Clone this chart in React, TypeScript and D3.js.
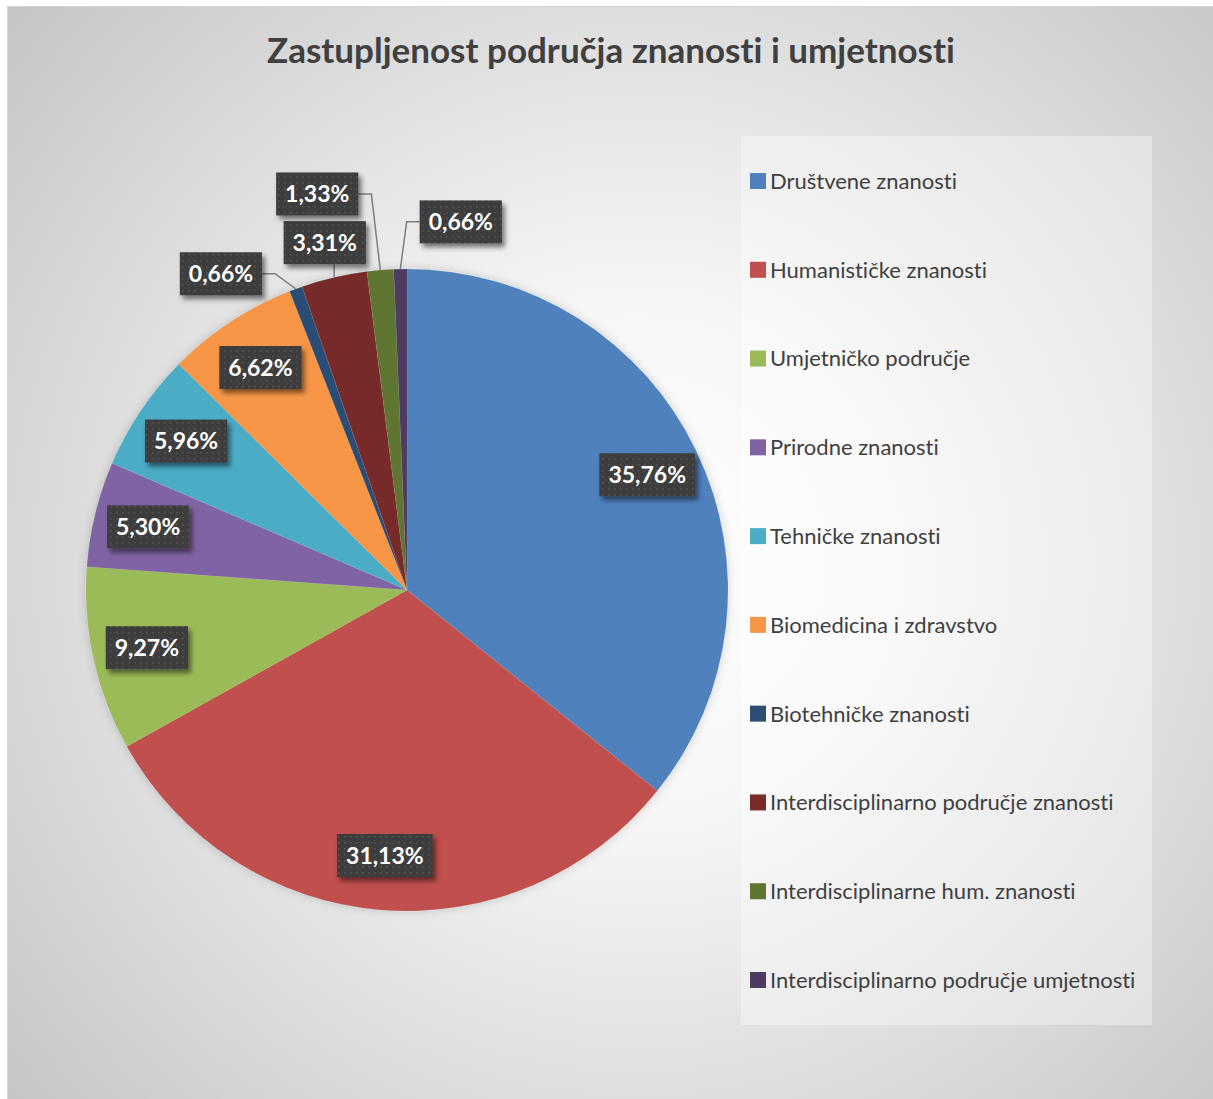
import { useEffect, useRef } from 'react';
import * as d3 from 'd3';

const CATEGORIES = [
  'Društvene znanosti',
  'Humanističke znanosti',
  'Umjetničko područje',
  'Prirodne znanosti',
  'Tehničke znanosti',
  'Biomedicina i zdravstvo',
  'Biotehničke znanosti',
  'Interdisciplinarno područje znanosti',
  'Interdisciplinarne hum. znanosti',
  'Interdisciplinarno područje umjetnosti',
];

const SHARES = [35.76, 31.13, 9.27, 5.3, 5.96, 6.62, 0.66, 3.31, 1.33, 0.66];

const COLORS = [
  '#4F81BD', '#C0504D', '#9BBB59', '#8064A2', '#4BACC6',
  '#F79646', '#2C4D75', '#772C2A', '#5F7530', '#4D3B62',
];

const TITLE = 'Zastupljenost područja znanosti i umjetnosti';

// label placement for the thin slices (angle shift in degrees, radius as share of R)
const OUTSIDE_LABELS: Record<number, { dAngle: number; rFactor: number }> = {
  6: { dAngle: -10.2, rFactor: 1.143 },
  7: { dAngle: -0.2, rFactor: 1.112 },
  8: { dAngle: -8, rFactor: 1.265 },
  9: { dAngle: 9.5, rFactor: 1.159 },
};

const W = 1213;
const H = 1099;
const FONT = 'Lato, "Open Sans", sans-serif';

export default function App() {
  const svgRef = useRef<SVGSVGElement>(null);

  useEffect(() => {
    if (!svgRef.current) return;
    const svg = d3.select(svgRef.current);
    svg.selectAll('*').remove();

    const defs = svg.append('defs');
    const grad = defs.append('radialGradient')
      .attr('id', 'bg')
      .attr('gradientUnits', 'userSpaceOnUse')
      .attr('cx', 640).attr('cy', 560).attr('r', 860);
    grad.append('stop').attr('offset', 0).attr('stop-color', '#ffffff');
    grad.append('stop').attr('offset', 0.3).attr('stop-color', '#f6f6f6');
    grad.append('stop').attr('offset', 1).attr('stop-color', '#c3c3c3');

    const pat = defs.append('pattern')
      .attr('id', 'dots')
      .attr('width', 6).attr('height', 6)
      .attr('patternUnits', 'userSpaceOnUse');
    pat.append('rect').attr('width', 6).attr('height', 6).attr('fill', '#3d3d3d');
    pat.append('rect').attr('x', 2).attr('y', 2).attr('width', 1.5).attr('height', 1.5).attr('fill', '#575757');

    const shadow = defs.append('filter').attr('id', 'shadow')
      .attr('x', '-20%').attr('y', '-20%').attr('width', '150%').attr('height', '160%');
    shadow.append('feDropShadow')
      .attr('dx', 3).attr('dy', 4).attr('stdDeviation', 2.5)
      .attr('flood-color', '#000').attr('flood-opacity', 0.5);

    const pieShadow = defs.append('filter').attr('id', 'pieShadow')
      .attr('x', '-10%').attr('y', '-10%').attr('width', '120%').attr('height', '120%');
    pieShadow.append('feDropShadow')
      .attr('dx', 0).attr('dy', 0).attr('stdDeviation', 5)
      .attr('flood-color', '#000').attr('flood-opacity', 0.18);

    // chart area
    svg.append('rect')
      .attr('x', 7.5).attr('y', 6.5)
      .attr('width', W).attr('height', H)
      .attr('fill', 'url(#bg)')
      .attr('stroke', '#d4d4d4');

    svg.append('text')
      .attr('x', 611).attr('y', 63)
      .attr('text-anchor', 'middle')
      .attr('fill', '#404040')
      .style('font-family', FONT)
      .style('font-size', '35px')
      .style('font-weight', '700')
      .style('font-variant-ligatures', 'none')
      .text(TITLE);

    // legend
    const legendBox = { x: 741, y: 136, w: 411, h: 889 };
    svg.append('rect')
      .attr('x', legendBox.x).attr('y', legendBox.y)
      .attr('width', legendBox.w).attr('height', legendBox.h)
      .attr('fill', '#ffffff').attr('opacity', 0.35);

    const legendY = d3.scalePoint<string>().domain(CATEGORIES).range([181, 980]);
    const leg = svg.append('g').selectAll('g')
      .data(CATEGORIES)
      .enter()
      .append('g')
      .attr('transform', d => `translate(750, ${legendY(d)})`);
    leg.append('rect')
      .attr('x', 0).attr('y', -8).attr('width', 16).attr('height', 16)
      .attr('fill', (_, i) => COLORS[i]);
    leg.append('text')
      .attr('x', 20).attr('y', 0).attr('dy', '0.36em')
      .attr('fill', '#404040')
      .style('font-family', FONT)
      .style('font-size', '22px')
      .style('font-variant-ligatures', 'none')
      .text(d => d);

    // pie
    const cx = 407;
    const cy = 590;
    const R = 321;
    const pie = d3.pie<number>().sort(null).value(d => d);
    const arcs = pie(SHARES);
    const arc = d3.arc<d3.PieArcDatum<number>>().innerRadius(0).outerRadius(R);
    const polar = (a: number, r: number): [number, number] => [cx + r * Math.sin(a), cy - r * Math.cos(a)];

    const g = svg.append('g').attr('transform', `translate(${cx}, ${cy})`);
    g.append('g').attr('filter', 'url(#pieShadow)')
      .selectAll('path')
      .data(arcs)
      .enter()
      .append('path')
      .attr('d', arc)
      .attr('fill', (_, i) => COLORS[i])
      .attr('stroke', '#ffffff')
      .attr('stroke-opacity', 0.12)
      .attr('stroke-width', 0.5);

    // data labels
    const fmt = d3.format('.2f');
    const labelLayer = svg.append('g');
    const leaderLayer = svg.insert('g', () => labelLayer.node());
    arcs.forEach((a, i) => {
      const mid = (a.startAngle + a.endAngle) / 2;
      const out = OUTSIDE_LABELS[i];
      const ang = out ? mid + (out.dAngle * Math.PI) / 180 : mid;
      const [lx, ly] = polar(ang, out ? out.rFactor * R : 0.83 * R);
      const text = fmt(a.data).replace('.', ',') + '%';

      const lg = labelLayer.append('g');
      const box = lg.append('rect').attr('fill', 'url(#dots)').attr('filter', 'url(#shadow)');
      const t = lg.append('text')
        .attr('x', lx).attr('y', ly).attr('dy', '0.36em')
        .attr('text-anchor', 'middle')
        .attr('fill', '#ffffff')
        .style('font-family', FONT)
        .style('font-size', '23px')
        .style('font-weight', '700')
        .text(text);
      const tw = (t.node() as SVGTextElement).getComputedTextLength();
      const bw = tw + 18;
      const bh = 43;
      const x0 = lx - bw / 2;
      const x1 = lx + bw / 2;
      const y0 = ly - bh / 2;
      const y1 = ly + bh / 2;
      box.attr('x', x0).attr('y', y0).attr('width', bw).attr('height', bh);

      if (out) {
        const [px, py] = polar(mid, R);
        let pts: [number, number][];
        if (px > x0 + 5 && px < x1 - 5) {
          pts = [[px, py > y1 ? y1 : y0], [px, py]];
        } else if (px >= x1 - 5) {
          pts = [[x1, ly], [x1 + 13, ly], [px, py]];
        } else {
          pts = [[x0, ly], [x0 - 13, ly], [px, py]];
        }
        leaderLayer.append('path')
          .attr('d', d3.line()(pts))
          .attr('fill', 'none')
          .attr('stroke', '#7f7f7f')
          .attr('stroke-width', 1.5);
      }
    });
  }, []);

  return (
    <div style={{ position: 'absolute', left: 0, top: 0, width: W, height: H, background: '#ffffff' }}>
      <svg ref={svgRef} width={W} height={H} style={{ display: 'block' }} />
    </div>
  );
}
